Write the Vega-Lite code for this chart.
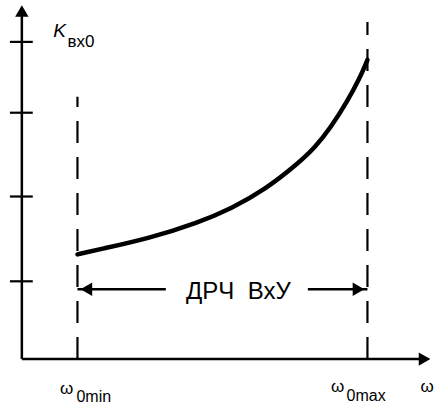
{
  "$schema": "https://vega.github.io/schema/vega-lite/v6.json",
  "width": 434,
  "height": 405,
  "padding": 0,
  "autosize": {"type": "fit", "contains": "padding"},
  "config": {"view": {"stroke": null}},
  "datasets": {
    "axes": [
      {"x": 0, "y": 0, "x2": 0, "y2": 350},
      {"x": 0, "y": 0, "x2": 404, "y2": 0}
    ],
    "ticks": [
      {"x": -12, "x2": 11, "y": 318},
      {"x": -12, "x2": 11, "y": 247},
      {"x": -12, "x2": 11, "y": 163},
      {"x": -12, "x2": 11, "y": 78}
    ],
    "bounds": [
      {"x": 56, "y": 0, "y2": 263},
      {"x": 348, "y": 0, "y2": 338}
    ],
    "curve": [
      {"x": 56, "y": 105},
      {"x": 78, "y": 110},
      {"x": 128, "y": 121},
      {"x": 178, "y": 137},
      {"x": 211, "y": 151},
      {"x": 245, "y": 170},
      {"x": 278, "y": 196},
      {"x": 295, "y": 212},
      {"x": 311, "y": 232},
      {"x": 328, "y": 259},
      {"x": 340, "y": 281},
      {"x": 348, "y": 300}
    ],
    "span": [
      {"x": 56, "x2": 145, "y": 70},
      {"x": 288, "x2": 348, "y": 70}
    ],
    "headUp": [{"x": 0, "y": 349}],
    "headRight": [{"x": 405.5, "y": 0}, {"x": 339, "y": 70}],
    "headLeft": [{"x": 65, "y": 70}],
    "mainLabels": [
      {"x": 45, "y": -30, "text": "ω"},
      {"x": 318, "y": -28, "text": "ω"},
      {"x": 408, "y": -28, "text": "ω"}
    ],
    "subLabels": [
      {"x": 55, "y": -38, "text": "0min"},
      {"x": 327, "y": -37, "text": "0max"}
    ],
    "kSub": [{"x": 46, "y": 318, "text": "вх0"}],
    "kLabel": [{"x": 38, "y": 329, "text": "K"}],
    "rangeLabel": [{"x": 218, "y": 67, "text": "ДРЧ\u00a0\u00a0ВхУ"}]
  },
  "layer": [
    {
      "data": {"name": "axes"},
      "mark": {"type": "rule", "color": "black", "strokeWidth": 2.5},
      "encoding": {
        "x": {"field": "x", "type": "quantitative", "scale": {"domain": [-22, 412], "nice": false, "zero": false}, "axis": null},
        "x2": {"field": "x2"},
        "y": {"field": "y", "type": "quantitative", "scale": {"domain": [-45, 360], "nice": false, "zero": false}, "axis": null},
        "y2": {"field": "y2"}
      }
    },
    {
      "data": {"name": "ticks"},
      "mark": {"type": "rule", "color": "black", "strokeWidth": 2.2},
      "encoding": {
        "x": {"field": "x", "type": "quantitative"},
        "x2": {"field": "x2"},
        "y": {"field": "y", "type": "quantitative"}
      }
    },
    {
      "data": {"name": "bounds"},
      "mark": {"type": "rule", "color": "black", "strokeWidth": 2.2, "strokeDash": [22, 14]},
      "encoding": {
        "x": {"field": "x", "type": "quantitative"},
        "y": {"field": "y", "type": "quantitative"},
        "y2": {"field": "y2"}
      }
    },
    {
      "data": {"name": "curve"},
      "mark": {"type": "line", "color": "black", "strokeWidth": 4.5, "interpolate": "basis", "strokeCap": "round"},
      "encoding": {
        "x": {"field": "x", "type": "quantitative"},
        "y": {"field": "y", "type": "quantitative"}
      }
    },
    {
      "data": {"name": "span"},
      "mark": {"type": "rule", "color": "black", "strokeWidth": 2.5},
      "encoding": {
        "x": {"field": "x", "type": "quantitative"},
        "x2": {"field": "x2"},
        "y": {"field": "y", "type": "quantitative"}
      }
    },
    {
      "data": {"name": "headUp"},
      "mark": {"type": "point", "shape": "triangle-up", "filled": true, "color": "black", "size": 180, "opacity": 1},
      "encoding": {
        "x": {"field": "x", "type": "quantitative"},
        "y": {"field": "y", "type": "quantitative"}
      }
    },
    {
      "data": {"name": "headRight"},
      "mark": {"type": "point", "shape": "triangle-right", "filled": true, "color": "black", "size": 180, "opacity": 1},
      "encoding": {
        "x": {"field": "x", "type": "quantitative"},
        "y": {"field": "y", "type": "quantitative"}
      }
    },
    {
      "data": {"name": "headLeft"},
      "mark": {"type": "point", "shape": "triangle-left", "filled": true, "color": "black", "size": 180, "opacity": 1},
      "encoding": {
        "x": {"field": "x", "type": "quantitative"},
        "y": {"field": "y", "type": "quantitative"}
      }
    },
    {
      "data": {"name": "mainLabels"},
      "mark": {"type": "text", "font": "Liberation Sans", "fontSize": 17, "align": "center", "baseline": "middle", "color": "black"},
      "encoding": {
        "x": {"field": "x", "type": "quantitative"},
        "y": {"field": "y", "type": "quantitative"},
        "text": {"field": "text"}
      }
    },
    {
      "data": {"name": "subLabels"},
      "mark": {"type": "text", "font": "Liberation Sans", "fontSize": 16, "align": "left", "baseline": "middle", "color": "black"},
      "encoding": {
        "x": {"field": "x", "type": "quantitative"},
        "y": {"field": "y", "type": "quantitative"},
        "text": {"field": "text"}
      }
    },
    {
      "data": {"name": "kSub"},
      "mark": {"type": "text", "font": "Liberation Sans", "fontSize": 17, "align": "left", "baseline": "middle", "color": "black"},
      "encoding": {
        "x": {"field": "x", "type": "quantitative"},
        "y": {"field": "y", "type": "quantitative"},
        "text": {"field": "text"}
      }
    },
    {
      "data": {"name": "kLabel"},
      "mark": {"type": "text", "font": "Liberation Sans", "fontSize": 19, "fontStyle": "italic", "align": "center", "baseline": "middle", "color": "black"},
      "encoding": {
        "x": {"field": "x", "type": "quantitative"},
        "y": {"field": "y", "type": "quantitative"},
        "text": {"field": "text"}
      }
    },
    {
      "data": {"name": "rangeLabel"},
      "mark": {"type": "text", "font": "Liberation Sans", "fontSize": 24, "align": "center", "baseline": "middle", "color": "black"},
      "encoding": {
        "x": {"field": "x", "type": "quantitative"},
        "y": {"field": "y", "type": "quantitative"},
        "text": {"field": "text"}
      }
    }
  ]
}
